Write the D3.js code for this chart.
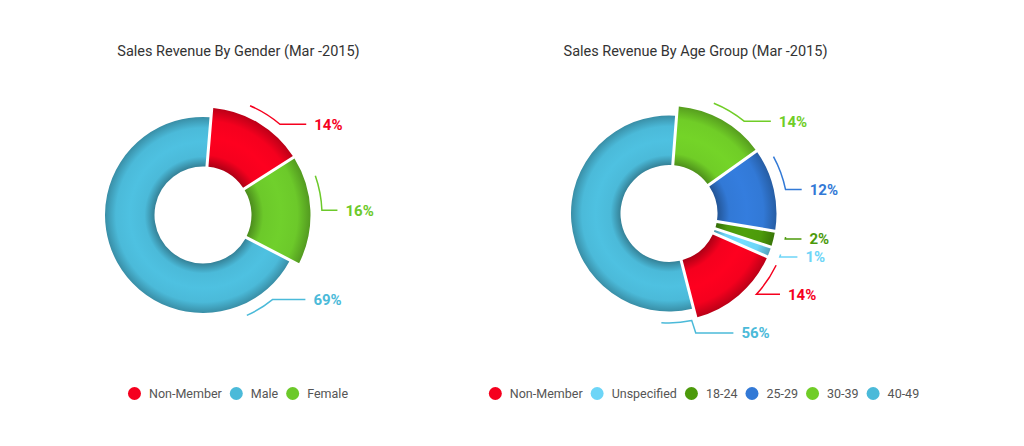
<!DOCTYPE html>
<html>
<head>
<meta charset="utf-8">
<script src="https://cdn.jsdelivr.net/npm/d3@7"></script>
<style>
  body { margin: 0; background: #fff; }
  svg { display: block; font-family: Roboto, "Open Sans", sans-serif; }
</style>
</head>
<body>
<svg id="chart" width="1024" height="446"></svg>
<script>
// gender doughnut
const genderCategories = ['Non-Member', 'Male', 'Female'];
const genderValues = [14.4, 69.2, 16.4];
const genderColors = ['#f5001e', '#4bbad9', '#6cc92a'];

// age group doughnut
const ageCategories = ['Non-Member', 'Unspecified', '18-24', '25-29', '30-39', '40-49'];
const ageValues = [14.3, 1.1, 2.0, 12.4, 13.8, 56.4];
const ageColors = ['#f5001e', '#6dd5f7', '#4c9a0b', '#3279d6', '#70cd27', '#4bbad9'];

const svg = d3.select('#chart');
const defs = svg.append('defs');
const deg = 180 / Math.PI;
const fmt = d3.format('.0f');

class DonutChart {
  constructor(cfg) {
    Object.assign(this, cfg);
    this.initVis();
  }

  initVis() {
    let vis = this;
    vis.R = 98;        // outer radius of the biggest slice
    vis.r = 48.5;      // hole
    vis.bump = 9.5;    // other slices stick out a bit
    vis.g = svg.append('g');
    vis.color = d3.scaleOrdinal().domain(vis.categories).range(vis.colors);

    // slices run anti-clockwise from the first category
    let a0 = vis.startDeg / deg;
    vis.pie = d3.pie().sort(null).value(d => d.value)
      .startAngle(a0).endAngle(a0 - 2 * Math.PI)
      .padAngle(0.03);

    vis.render();
  }

  render() {
    let vis = this;
    let cx = vis.cx, cy = vis.cy;
    let data = vis.categories.map((c, i) => ({ name: c, value: vis.values[i] }));
    let arcs = vis.pie(data);
    let maxV = d3.max(vis.values);

    arcs.forEach(d => {
      d.outer = d.value < maxV ? vis.R + vis.bump : vis.R;
      let lo = Math.min(d.startAngle, d.endAngle) * deg;
      let hi = Math.max(d.startAngle, d.endAngle) * deg;
      if (lo < 0) { lo += 360; hi += 360; }
      d.lo = lo; d.hi = hi; d.mid = (lo + hi) / 2;
    });

    // 3d-ish lighting: dark rims, lighter band in the middle
    arcs.forEach((d, i) => {
      let c = vis.color(d.data.name);
      let k = vis.r / d.outer, w = 1 - k;
      let grad = defs.append('radialGradient')
        .attr('id', vis.id + '-g' + i)
        .attr('gradientUnits', 'userSpaceOnUse')
        .attr('cx', 0).attr('cy', 0).attr('r', d.outer);
      [[k, d3.color(c).darker(1.0)],
       [k + w * 0.2, c],
       [k + w * 0.5, d3.color(c).brighter(0.1)],
       [1 - w * 0.22, c],
       [1, d3.color(c).darker(0.75)]]
        .forEach(s => grad.append('stop').attr('offset', s[0]).attr('stop-color', s[1]));
    });

    let arc = d3.arc().innerRadius(vis.r).outerRadius(d => d.outer).padRadius(100);

    vis.g.append('g').attr('transform', `translate(${cx},${cy})`)
      .selectAll('path').data(arcs).join('path')
      .attr('d', arc)
      .attr('fill', (d, i) => `url(#${vis.id}-g${i})`);

    // labels, all on the right hand side
    let labels = arcs.map(d => {
      let l = { d: d, rArc: d.outer + 11.5, big: d.mid > 180 };
      if (l.big) {
        l.end = Math.min(d.lo + 23, 168);
        l.clamped = d.lo + 23 > 168;
        l.y = l.clamped ? cy + l.rArc + 10 : cy - l.rArc * Math.cos(l.end / deg);
      } else {
        l.y = cy - 106 * Math.cos(d.mid / deg);
      }
      return l;
    });
    labels.sort((a, b) => a.y - b.y);
    labels.forEach((l, i) => {
      if (i > 0) l.y = Math.max(l.y, labels[i - 1].y + 18);
    });
    labels.forEach(l => {
      let d = l.d;
      if (!l.big) {
        let c = Math.max(-1, Math.min(1, (cy - l.y) / l.rArc));
        l.end = Math.acos(c) * deg;
        l.start = Math.max(d.lo + 2, Math.min(d.hi - 2, l.end - 17));
      } else {
        l.start = l.end + 16;
      }
    });

    let color = l => vis.color(l.d.data.name);
    let lineEnd = l => cx + 46 + 88.5 * Math.sin(l.end / deg);

    vis.g.selectAll('path.conn').data(labels).join('path')
      .attr('class', 'conn')
      .attr('fill', 'none')
      .attr('stroke', color)
      .attr('stroke-width', 1.5)
      .attr('d', l => {
        let p = d3.path();
        let s = (l.start - 90) / deg, e = (l.end - 90) / deg;
        p.arc(cx, cy, l.rArc, s, e, e < s);
        let ex = cx + l.rArc * Math.sin(l.end / deg);
        let ey = cy - l.rArc * Math.cos(l.end / deg);
        if (Math.abs(ey - l.y) > 1) p.lineTo(ex + 4, l.y);
        p.lineTo(lineEnd(l), l.y);
        return p.toString();
      });

    vis.g.selectAll('text.pct').data(labels).join('text')
      .attr('class', 'pct')
      .attr('x', l => lineEnd(l) + 8)
      .attr('y', l => l.y)
      .attr('dy', '0.36em')
      .attr('fill', color)
      .style('font-size', '15px')
      .style('font-weight', 700)
      .text(l => fmt(l.d.value) + '%');

    // title
    vis.g.append('text')
      .attr('x', vis.titleX).attr('y', 56)
      .attr('text-anchor', 'middle')
      .attr('fill', '#333')
      .style('font-size', '14.5px')
      .text(vis.title);

    // legend
    let lg = vis.g.append('g');
    let x = 0;
    vis.categories.forEach(c => {
      let item = lg.append('g').attr('transform', `translate(${x},0)`);
      item.append('circle').attr('cx', 6.5).attr('cy', 0).attr('r', 6.5).attr('fill', vis.color(c));
      let t = item.append('text')
        .attr('x', 21).attr('y', 0).attr('dy', '0.35em')
        .attr('fill', '#555')
        .style('font-size', '12.5px')
        .text(c);
      x += 21 + t.node().getComputedTextLength() + 8;
    });
    x -= 8;
    lg.attr('transform', `translate(${vis.legendX - x / 2},${393.5})`);
  }
}

new DonutChart({
  id: 'gender', title: 'Sales Revenue By Gender (Mar -2015)',
  categories: genderCategories, values: genderValues, colors: genderColors,
  cx: 203, cy: 215, startDeg: 57.5, titleX: 238.5, legendX: 238
});

new DonutChart({
  id: 'age', title: 'Sales Revenue By Age Group (Mar -2015)',
  categories: ageCategories, values: ageValues, colors: ageColors,
  cx: 669, cy: 213.5, startDeg: 165.5, titleX: 695.5, legendX: 704
});
</script>
</body>
</html>
